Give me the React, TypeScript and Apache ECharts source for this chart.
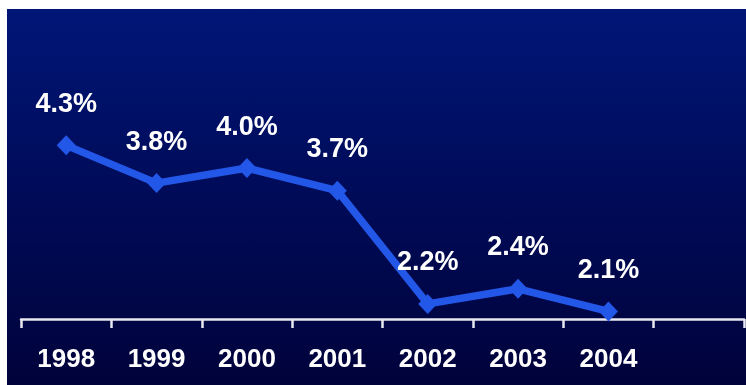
import React, { useEffect, useRef } from "react";
import * as echarts from "echarts";

const categories = ["1998", "1999", "2000", "2001", "2002", "2003", "2004", ""];
const rates: (number | null)[] = [4.3, 3.8, 4.0, 3.7, 2.2, 2.4, 2.1, null];

export default function App() {
  const ref = useRef<HTMLDivElement>(null);
  useEffect(() => {
    if (!ref.current) return;
    const chart = echarts.init(ref.current, null, { renderer: "svg" });
    chart.setOption({
      animation: false,
      graphic: [
        {
          type: "rect",
          z: -10,
          silent: true,
          shape: { x: 7, y: 9, width: 746 - 7, height: 385 - 9 },
          style: {
            fill: new echarts.graphic.LinearGradient(0, 0, 0, 1, [
              { offset: 0, color: "#001677" },
              { offset: 0.5, color: "#000b58" },
              { offset: 1, color: "#00023a" },
            ]),
          },
        },
      ],
      grid: { left: 21, right: 2, top: 17, bottom: 66, containLabel: false },
      xAxis: {
        type: "category",
        data: categories,
        boundaryGap: true,
        axisLine: { show: true, lineStyle: { color: "#e8e8f0", width: 2.5 } },
        axisTick: {
          show: true,
          interval: 0,
          length: 9,
          lineStyle: { color: "#e8e8f0", width: 2.5 },
        },
        axisLabel: {
          color: "#ffffff",
          fontFamily: "Liberation Sans, Arial, sans-serif",
          fontWeight: "bold",
          fontSize: 26,
          margin: 26,
          interval: 0,
        },
      },
      yAxis: {
        type: "value",
        min: 2,
        max: 6,
        show: false,
        splitLine: { show: false },
      },
      series: [
        {
          type: "line",
          data: rates,
          symbol: "diamond",
          symbolSize: [19, 20],
          lineStyle: { color: "#2357e8", width: 7.5 },
          itemStyle: { color: "#2357e8" },
          label: {
            show: true,
            position: "top",
            distance: 19,
            color: "#ffffff",
            fontFamily: "Liberation Sans, Arial, sans-serif",
            fontWeight: "bold",
            fontSize: 27,
            formatter: (p: any) => p.value.toFixed(1) + "%",
          },
        },
      ],
    });
    return () => chart.dispose();
  }, []);
  return (
    <div
      ref={ref}
      style={{ position: "fixed", left: 0, top: 0, width: 746, height: 385 }}
    />
  );
}
